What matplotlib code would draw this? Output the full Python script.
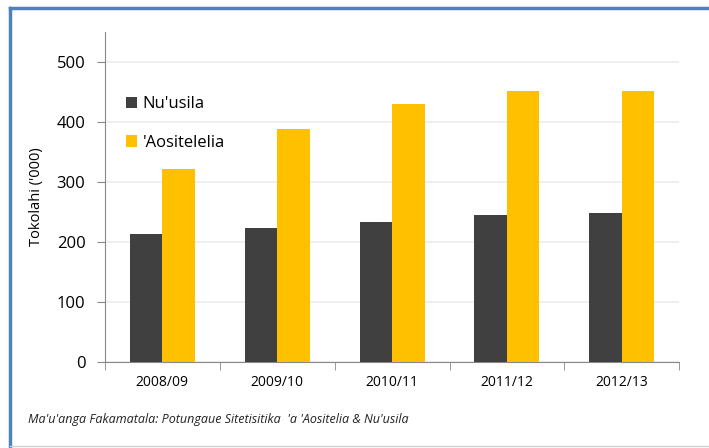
import matplotlib.pyplot as plt
import numpy as np
from matplotlib.lines import Line2D

# Data
years = ["2008/09", "2009/10", "2010/11", "2011/12", "2012/13"]
nz = [213, 224, 234, 245, 248]          # Nu'usila
au = [321, 388, 430, 451, 452]          # 'Aositelelia

plt.rcParams['font.family'] = ['Open Sans', 'DejaVu Sans']

fig = plt.figure(figsize=(7.09, 4.48), dpi=100)
ax = fig.add_axes([0.148, 0.191, 0.81, 0.738])

x = np.arange(len(years))
w = 0.283
ax.bar(x - w / 2, nz, w, color='#404040', label="Nu'usila", zorder=3)
ax.bar(x + w / 2, au, w, color='#ffc000', label="'Aositelelia", zorder=3)

ax.set_xlim(-0.5, len(years) - 0.5)
ax.set_ylim(0, 550)
ax.set_yticks(range(0, 501, 100))
ax.tick_params(axis='y', labelsize=12, length=6, color='#888888', pad=8)
ax.yaxis.grid(True, color='#ececec', linewidth=1.2, zorder=0)

# category labels between boundary ticks
ax.set_xticks(x)
ax.set_xticklabels(years, fontsize=10)
ax.tick_params(axis='x', length=0, pad=9)
ax.set_xticks(np.arange(-0.5, len(years)), minor=True)
ax.tick_params(axis='x', which='minor', length=6, color='#888888')

for s in ['top', 'right']:
    ax.spines[s].set_visible(False)
for s in ['left', 'bottom']:
    ax.spines[s].set_color('#888888')

ax.set_ylabel("Tokolahi ('000)", fontsize=10.5, labelpad=9)

ax.legend(loc='upper left', bbox_to_anchor=(0.01, 0.85), frameon=False,
          fontsize=12, handlelength=0.7, handleheight=0.7, handletextpad=0.3,
          labelspacing=1.35)

fig.text(0.04, 0.055, "Ma'u'anga Fakamatala: Potungaue Sitetisitika  'a 'Aositelia & Nu'usila",
         fontsize=9, style='italic', color='#222222')

# outer frame
fig.add_artist(Line2D([10 / 709, 1.0], [1 - 8 / 448, 1 - 8 / 448], color='#4f81bd',
                      linewidth=2.5, transform=fig.transFigure))
fig.add_artist(Line2D([10 / 709, 10 / 709], [1 - 8 / 448, 0], color='#4f81bd',
                      linewidth=2.5, transform=fig.transFigure))
fig.add_artist(Line2D([10 / 709, 1.0], [2 / 448, 2 / 448], color='#d0d0d0',
                      linewidth=1.0, transform=fig.transFigure))

fig.savefig("out.png", dpi=100)
